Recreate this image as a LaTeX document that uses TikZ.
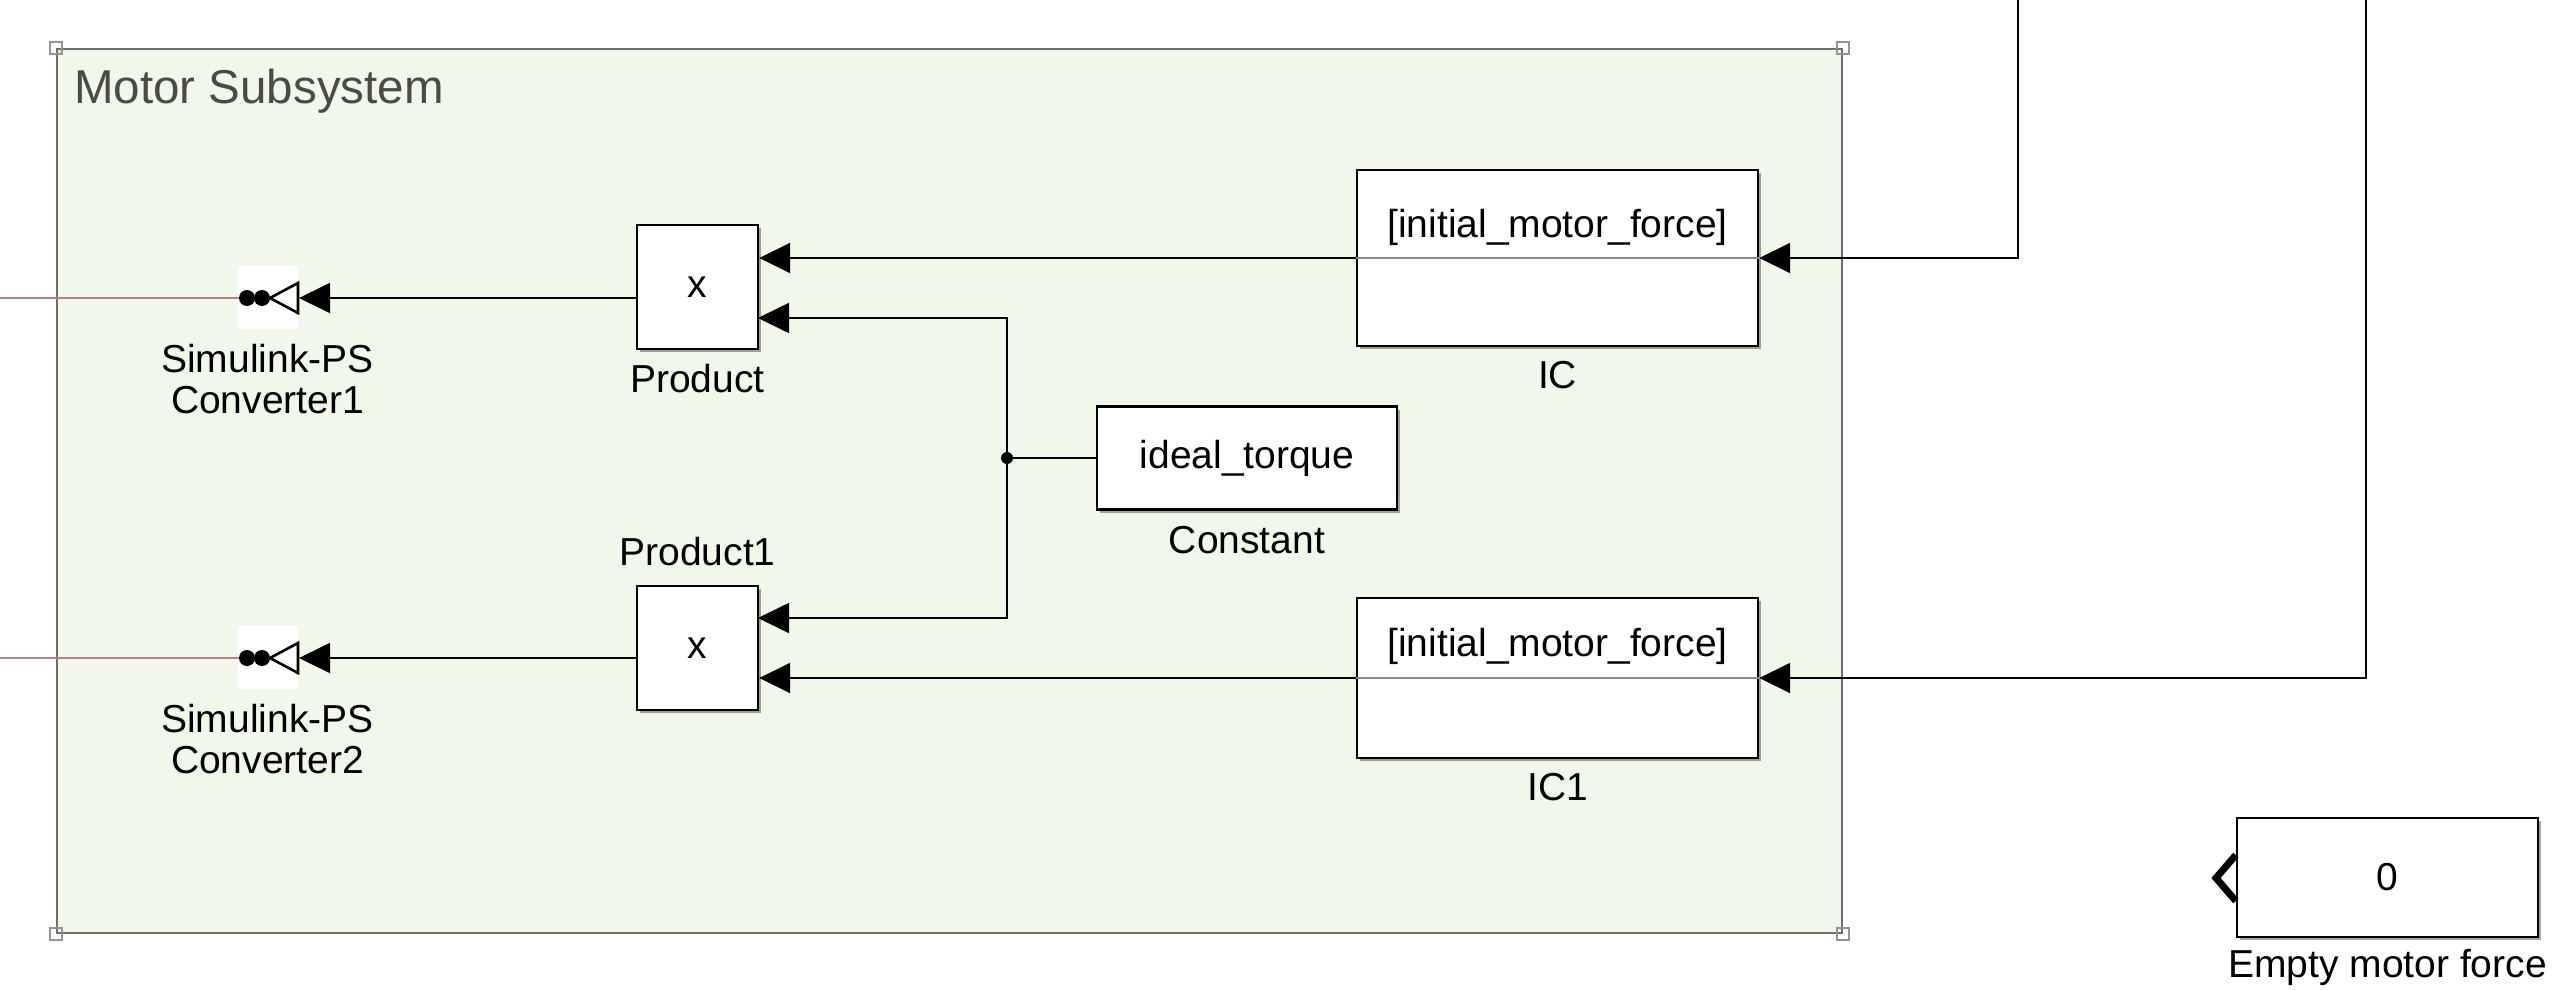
\documentclass[tikz,border=0pt]{standalone}
\usepackage{fontspec}
\setmainfont{Liberation Sans}
\usetikzlibrary{arrows.meta,shadows}
\definecolor{subfill}{HTML}{F1F7E9}
\definecolor{subframe}{HTML}{6E6E6E}
\definecolor{subtitle}{HTML}{4A4C44}
\definecolor{physline}{HTML}{B7818B}
\newcommand\slk[1]{\fontsize{39}{41}\selectfont #1}

\begin{document}
\begin{tikzpicture}[x=1pt,y=-1pt,
		sig/.style={line width=1.8pt,-{Triangle[length=31pt,width=30pt]}},
		blk/.style={draw,line width=2.4pt,fill=white,inner sep=0pt,drop shadow={shadow xshift=3pt,shadow yshift=-3pt,opacity=0.35,fill=black}},
		lbl/.style={inner sep=0pt,anchor=base},
		cvlbl/.style={inner sep=0pt,anchor=north,align=center,font=\fontsize{39}{41}\selectfont},
		handle/.style={draw=gray!85,line width=1.5pt,minimum size=12pt,inner sep=0pt}]
					\useasboundingbox (0,0) rectangle (2566,990);
					\node[draw=subframe,fill=subfill,line width=1.8pt,minimum width=1785pt,minimum height=884pt,inner sep=0pt] (sub) at (949.5,491) {};
					\node[handle] (hnw) at (sub.north west) {};
					\node[handle] (hne) at (sub.north east) {};
					\node[handle] (hsw) at (sub.south west) {};
					\node[handle] (hse) at (sub.south east) {};
					\node[anchor=base west,inner sep=0pt,text=subtitle] (title) at (74,103) {\fontsize{47.5}{50}\selectfont Motor Subsystem};

					\node[blk,minimum width=121pt,minimum height=124pt] (prod) at (697.5,287) {\slk{x}};
					\node[blk,minimum width=121pt,minimum height=124pt] (prodone) at (697.5,648) {\slk{x}};
					\node[blk,minimum width=401pt,minimum height=176pt] (ic) at (1557.5,258) {};
					\node[blk,minimum width=401pt,minimum height=160pt] (icone) at (1557.5,678) {};
					\node[blk,minimum width=300pt,minimum height=103pt] (const) at (1247,458) {\slk{ideal\_torque}};
					\node[blk,minimum width=301pt,minimum height=119pt] (empty) at (2387.5,877.5) {\slk{0}};
					\node[fill=white,minimum width=60pt,minimum height=63pt,inner sep=0pt] (convone) at (267.5,297.5) {};
					\node[fill=white,minimum width=60pt,minimum height=63pt,inner sep=0pt] (convtwo) at (267.5,657.5) {};

					\draw[gray!90,line width=2pt] (ic.west) -- (ic.east);
					\draw[gray!90,line width=2pt] (icone.west) -- (icone.east);
					\node[lbl] (ictext) at (1557.5,237) {\slk{[initial\_motor\_force]}};
					\node[lbl] (iconetext) at (1557.5,656) {\slk{[initial\_motor\_force]}};

					\node[lbl] (prodlbl) at (697.5,392) {\slk{Product}};
					\node[lbl] (prodonelbl) at (697.5,565) {\slk{Product1}};
					\node[lbl] (iclbl) at (1557.5,388) {\slk{IC}};
					\node[lbl] (iconelbl) at (1557.5,800) {\slk{IC1}};
					\node[lbl] (constlbl) at (1247,553) {\slk{Constant}};
					\node[lbl] (emptylbl) at (2387.5,977) {\slk{Empty motor force}};
					\node[cvlbl] (convonelbl) at (267.5,344) {Simulink-PS\\Converter1};
					\node[cvlbl] (convtwolbl) at (267.5,704) {Simulink-PS\\Converter2};

					\coordinate (physone) at (0,298);
					\coordinate (phystwo) at (0,658);
					\coordinate (convonein) at (299,298);
					\coordinate (convtwoin) at (299,658);
					\coordinate (prodin) at (758,318);
					\coordinate (prodonein) at (758,618);
					\coordinate (jn) at (1007,458);
					\coordinate (icsrc) at (2018,0);
					\coordinate (iconesrc) at (2366,0);

					\draw[physline,line width=1.8pt] (physone) -- (240,298);
					\draw[physline,line width=1.8pt] (phystwo) -- (240,658);

					\fill (247,298) circle (8);
					\fill (262,298) circle (8);
					\draw[line width=2.6pt,fill=white,line join=miter] (270,298) -- (298,283) -- (298,313) -- cycle;
					\fill (247,658) circle (8);
					\fill (262,658) circle (8);
					\draw[line width=2.6pt,fill=white,line join=miter] (270,658) -- (298,643) -- (298,673) -- cycle;
					\draw[line width=7pt,line join=miter] (empty.west |- 0,855) -- (2216,878) -- (empty.west |- 0,901);

					\draw[sig] (prod.west |- convonein) -- (convonein);
					\draw[sig] (prodone.west |- convtwoin) -- (convtwoin);
					\draw[sig] (ic.west) -- (prod.east |- ic.west);
					\draw[sig] (icone.west) -- (prodone.east |- icone.west);
					\draw[line width=1.8pt] (const.west) -- (jn);
					\fill (jn) circle (6);
					\draw[sig] (jn) |- (prodin);
					\draw[sig] (jn) |- (prodonein);
					\draw[sig] (icsrc) |- (ic.east);
					\draw[sig] (iconesrc) |- (icone.east);
				\end{tikzpicture}
\end{document}
